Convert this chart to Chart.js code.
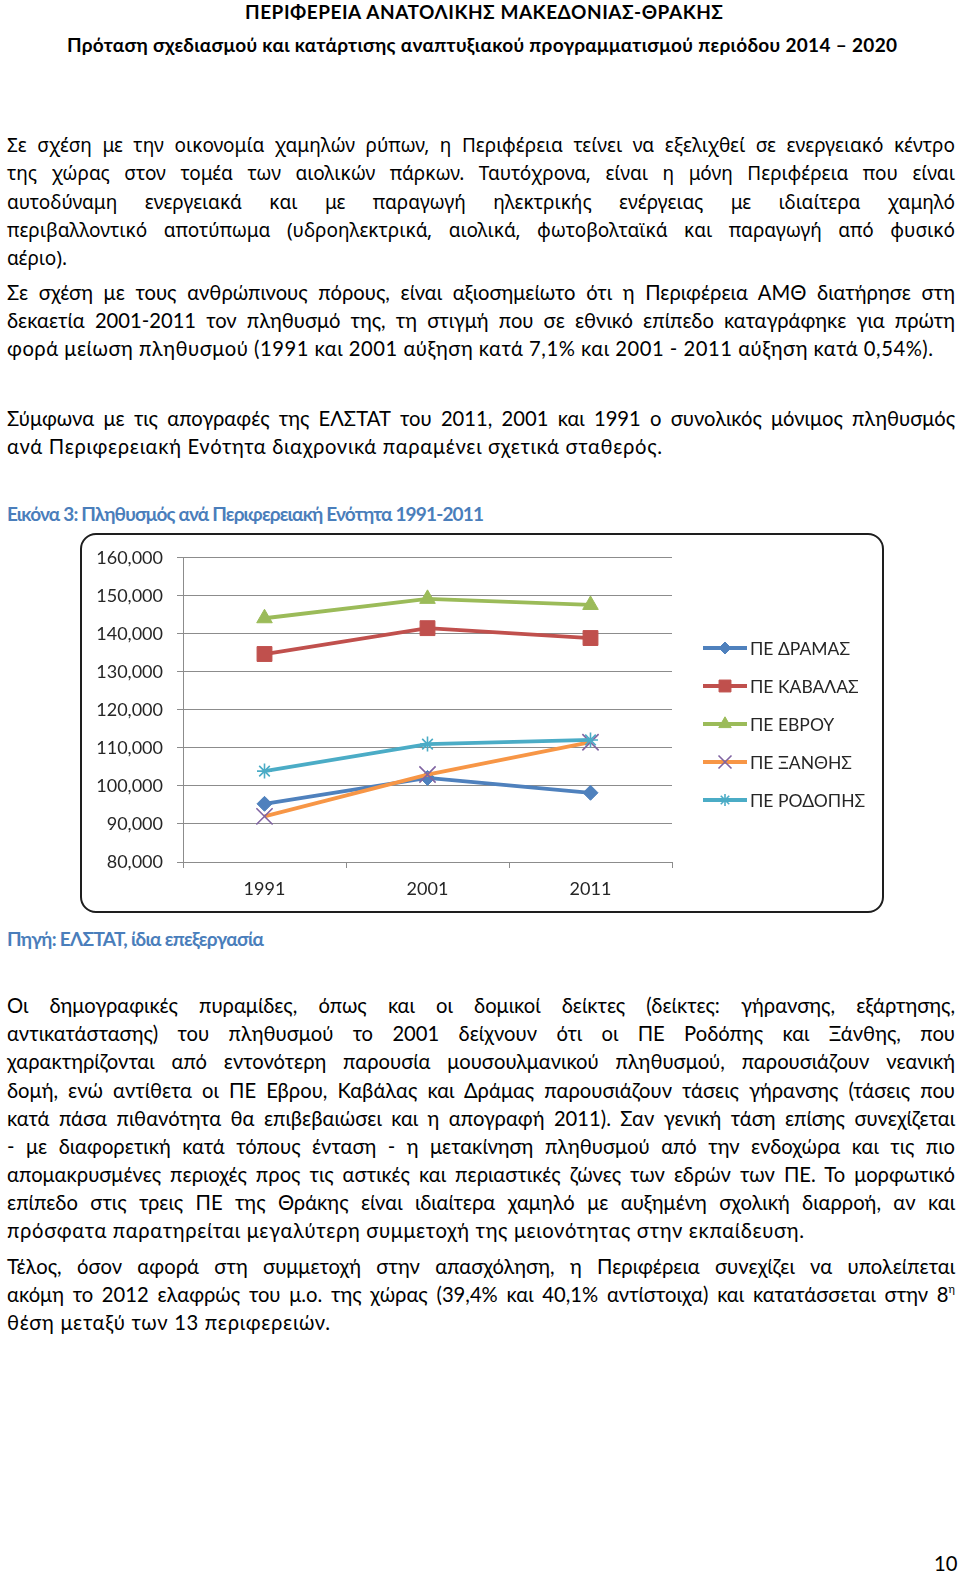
<!DOCTYPE html>
<html><head><meta charset="utf-8">
<script src="https://cdn.jsdelivr.net/npm/chart.js@4/dist/chart.umd.min.js"></script>
<style>
html,body{margin:0;padding:0;background:#fff;}
body{width:960px;height:1575px;position:relative;overflow:hidden;font-family:Lato,'Noto Sans',sans-serif;color:#000;}
.ln{position:absolute;white-space:nowrap;line-height:28px;font-size:20.2px;left:0;top:0;}
.t{font-family:'Noto Sans',sans-serif;font-size:19px;}
.h{font-size:19px;}
.b{font-weight:bold;}
.blue{color:#4A7EBB;}
sup{font-size:11px;vertical-align:9px;line-height:0;}
#box{position:absolute;left:80px;top:533px;width:800px;height:376px;border:2px solid #1e1e1e;border-radius:16px;}
#cw{position:absolute;left:80px;top:533px;width:805px;height:380px;}
</style></head>
<body>
<div class="ln b h" data-x="245" data-b="18.5" data-w="478" data-fit="ls">ΠΕΡΙΦΕΡΕΙΑ ΑΝΑΤΟΛΙΚΗΣ ΜΑΚΕΔΟΝΙΑΣ-ΘΡΑΚΗΣ</div>
<div class="ln b h" data-x="67" data-b="52" data-w="830" data-fit="ls">Πρόταση σχεδιασμού και κατάρτισης αναπτυξιακού προγραμματισμού περιόδου 2014 – 2020</div>

<div class="ln t" data-x="7" data-b="152.3" data-w="948">Σε σχέση με την οικονομία χαμηλών ρύπων, η Περιφέρεια τείνει να εξελιχθεί σε ενεργειακό κέντρο</div>
<div class="ln t" data-x="7" data-b="180.4" data-w="948">της χώρας στον τομέα των αιολικών πάρκων. Ταυτόχρονα, είναι η μόνη Περιφέρεια που είναι</div>
<div class="ln t" data-x="7" data-b="208.5" data-w="948">αυτοδύναμη ενεργειακά και με παραγωγή ηλεκτρικής ενέργειας με ιδιαίτερα χαμηλό</div>
<div class="ln t" data-x="7" data-b="236.6" data-w="948">περιβαλλοντικό αποτύπωμα (υδροηλεκτρικά, αιολικά, φωτοβολταϊκά και παραγωγή από φυσικό</div>
<div class="ln t" data-x="7" data-b="264.7">αέριο).</div>

<div class="ln" data-x="7" data-b="299.5" data-w="948">Σε σχέση με τους ανθρώπινους πόρους, είναι αξιοσημείωτο ότι η Περιφέρεια ΑΜΘ διατήρησε στη</div>
<div class="ln" data-x="7" data-b="327.7" data-w="948">δεκαετία 2001-2011 τον πληθυσμό της, τη στιγμή που σε εθνικό επίπεδο καταγράφηκε για πρώτη</div>
<div class="ln" data-x="7" data-b="355.9" data-w="926" data-fit="ls">φορά μείωση πληθυσμού (1991 και 2001 αύξηση κατά 7,1% και 2001 - 2011 αύξηση κατά 0,54%).</div>

<div class="ln" data-x="7" data-b="425.5" data-w="948">Σύμφωνα με τις απογραφές της ΕΛΣΤΑΤ του 2011, 2001 και 1991 ο συνολικός μόνιμος πληθυσμός</div>
<div class="ln" data-x="7" data-b="453.7" data-w="655" data-fit="ls">ανά Περιφερειακή Ενότητα διαχρονικά παραμένει σχετικά σταθερός.</div>

<div class="ln b blue h" data-x="7" data-b="521" data-w="477" data-fit="ls">Εικόνα 3: Πληθυσμός ανά Περιφερειακή Ενότητα 1991-2011</div>

<div id="box"></div>
<div id="cw"><canvas id="c" width="805" height="380"></canvas></div>

<div class="ln b blue h" data-x="7" data-b="946" data-w="257" data-fit="ls">Πηγή: ΕΛΣΤΑΤ, ίδια επεξεργασία</div>

<div class="ln" data-x="7" data-b="1013" data-w="948">Οι δημογραφικές πυραμίδες, όπως και οι δομικοί δείκτες (δείκτες: γήρανσης, εξάρτησης,</div>
<div class="ln" data-x="7" data-b="1041.2" data-w="948">αντικατάστασης) του πληθυσμού το 2001 δείχνουν ότι οι ΠΕ Ροδόπης και Ξάνθης, που</div>
<div class="ln" data-x="7" data-b="1069.3" data-w="948">χαρακτηρίζονται από εντονότερη παρουσία μουσουλμανικού πληθυσμού, παρουσιάζουν νεανική</div>
<div class="ln" data-x="7" data-b="1097.5" data-w="948">δομή, ενώ αντίθετα οι ΠΕ Έβρου, Καβάλας και Δράμας παρουσιάζουν τάσεις γήρανσης (τάσεις που</div>
<div class="ln" data-x="7" data-b="1125.6" data-w="948">κατά πάσα πιθανότητα θα επιβεβαιώσει και η απογραφή 2011). Σαν γενική τάση επίσης συνεχίζεται</div>
<div class="ln" data-x="7" data-b="1153.8" data-w="948">- με διαφορετική κατά τόπους ένταση - η μετακίνηση πληθυσμού από την ενδοχώρα και τις πιο</div>
<div class="ln" data-x="7" data-b="1181.9" data-w="948">απομακρυσμένες περιοχές προς τις αστικές και περιαστικές ζώνες των εδρών των ΠΕ. Το μορφωτικό</div>
<div class="ln" data-x="7" data-b="1210" data-w="948">επίπεδο στις τρεις ΠΕ της Θράκης είναι ιδιαίτερα χαμηλό με αυξημένη σχολική διαρροή, αν και</div>
<div class="ln" data-x="7" data-b="1238.2" data-w="797" data-fit="ls">πρόσφατα παρατηρείται μεγαλύτερη συμμετοχή της μειονότητας στην εκπαίδευση.</div>

<div class="ln" data-x="7" data-b="1273.5" data-w="948">Τέλος, όσον αφορά στη συμμετοχή στην απασχόληση, η Περιφέρεια συνεχίζει να υπολείπεται</div>
<div class="ln" data-x="7" data-b="1301.7" data-w="948">ακόμη το 2012 ελαφρώς του μ.ο. της χώρας (39,4% και 40,1% αντίστοιχα) και κατατάσσεται στην 8<sup>η</sup></div>
<div class="ln" data-x="7" data-b="1329.9" data-w="323" data-fit="ls">θέση μεταξύ των 13 περιφερειών.</div>

<div class="ln" data-x="934" data-b="1571">10</div>

<script>
// ---- chart data ----
const years = ['1991', '2001', '2011'];
const seriesNames = ['ΠΕ ΔΡΑΜΑΣ', 'ΠΕ ΚΑΒΑΛΑΣ', 'ΠΕ ΕΒΡΟΥ', 'ΠΕ ΞΑΝΘΗΣ', 'ΠΕ ΡΟΔΟΠΗΣ'];
const drama  = [95300, 102100, 98200];
const kavala = [134700, 141500, 138900];
const evros  = [144100, 149200, 147600];
const xanthi = [92000, 103000, 111500];
const rodopi = [103900, 111000, 112100];
const yTickValues = [80000, 90000, 100000, 110000, 120000, 130000, 140000, 150000, 160000];

// ---- text line layout ----
document.querySelectorAll('.ln').forEach(el => {
  const x = +el.dataset.x, b = +el.dataset.b;
  const w = el.dataset.w ? +el.dataset.w : null;
  const mode = el.dataset.fit || 'ws';
  if (w) {
    const nat = el.getBoundingClientRect().width;
    const txt = el.textContent;
    if (mode === 'ws') {
      const n = (txt.match(/ /g) || []).length;
      if (n) el.style.wordSpacing = ((w - nat) / n) + 'px';
    } else {
      const n = txt.length - 1;
      if (n > 0) el.style.letterSpacing = ((w - nat) / n) + 'px';
    }
  }
  const m = document.createElement('span');
  m.style.cssText = 'display:inline-block;width:0;height:0;vertical-align:baseline;';
  el.appendChild(m);
  const bo = m.offsetTop;
  el.style.left = x + 'px';
  el.style.top = (b - bo) + 'px';
});

// ---- chart ----
const FONT = 'Lato, "Noto Sans", sans-serif';
const gridColor = '#8c8c8c';
const datasets = [
  {label: seriesNames[0], data: drama, borderColor: '#4F81BD', pointBackgroundColor: '#4F81BD', pointBorderColor: '#4F81BD',
   pointStyle: 'rectRot', pointRadius: 7.5, order: 5},
  {label: seriesNames[1], data: kavala, borderColor: '#C0504D', pointBackgroundColor: '#C0504D', pointBorderColor: '#C0504D',
   pointStyle: 'rect', pointRadius: 10.5, order: 4},
  {label: seriesNames[2], data: evros, borderColor: '#9BBB59', pointBackgroundColor: '#9BBB59', pointBorderColor: '#9BBB59',
   pointStyle: 'triangle', pointRadius: 9, order: 3},
  {label: seriesNames[3], data: xanthi, borderColor: '#F79646', pointBackgroundColor: '#8064A2', pointBorderColor: '#8064A2',
   pointStyle: 'crossRot', pointRadius: 11.5, pointBorderWidth: 1.6, order: 2},
  {label: seriesNames[4], data: rodopi, borderColor: '#4BACC6', pointBackgroundColor: '#4BACC6', pointBorderColor: '#4BACC6',
   pointStyle: 'star', pointRadius: 7.5, pointBorderWidth: 1.6, order: 1}
].map(d => Object.assign({borderWidth: 3.8, tension: 0, pointBorderWidth: 1, pointHoverRadius: d.pointRadius}, d));

function drawMarker(ctx, style, r, x, y) {
  if (Chart.helpers && Chart.helpers.drawPoint) {
    Chart.helpers.drawPoint(ctx, {pointStyle: style, radius: r, rotation: 0, borderWidth: ctx.lineWidth}, x, y);
  }
}

const legendPlugin = {
  id: 'xlLegend',
  afterDraw(chart) {
    const ctx = chart.ctx;
    const x0 = 623, x1 = 667, tx = 670, top = 115, gap = 38;
    chart.data.datasets.forEach((ds, i) => {
      const y = top + i * gap;
      ctx.save();
      ctx.strokeStyle = ds.borderColor;
      ctx.lineWidth = ds.borderWidth;
      ctx.beginPath(); ctx.moveTo(x0, y); ctx.lineTo(x1, y); ctx.stroke();
      ctx.fillStyle = ds.pointBackgroundColor;
      ctx.strokeStyle = ds.pointBorderColor;
      ctx.lineWidth = ds.pointBorderWidth;
      drawMarker(ctx, ds.pointStyle, ds.pointRadius * 0.8, (x0 + x1) / 2, y);
      ctx.fillStyle = '#262626';
      ctx.font = '17.5px ' + FONT;
      ctx.textBaseline = 'middle';
      ctx.textAlign = 'left';
      ctx.fillText(ds.label, tx, y + 1);
      ctx.restore();
    });
  }
};

new Chart(document.getElementById('c'), {
  type: 'line',
  data: {labels: years, datasets},
  options: {
    responsive: false,
    animation: false,
    devicePixelRatio: 1,
    layout: {padding: {left: 0, right: 213, top: 24, bottom: 0}},
    plugins: {legend: {display: false}, tooltip: {enabled: false}},
    scales: {
      x: {
        type: 'category',
        offset: true,
        grid: {offset: true, drawOnChartArea: false, drawTicks: true, tickLength: 6, color: gridColor},
        border: {display: true, color: gridColor, width: 1},
        ticks: {color: '#262626', font: {family: FONT, size: 18}, padding: 10, maxRotation: 0},
        afterFit(s) { s.height = 51; }
      },
      y: {
        min: yTickValues[0],
        max: yTickValues[yTickValues.length - 1],
        afterBuildTicks(s) { s.ticks = yTickValues.map(v => ({value: v})); },
        grid: {color: gridColor, tickLength: 6},
        border: {display: true, color: gridColor, width: 1},
        ticks: {color: '#262626', font: {family: FONT, size: 18}, padding: 14,
                callback: v => Number(v).toLocaleString('en-US')},
        afterFit(s) { s.width = 103; }
      }
    }
  },
  plugins: [legendPlugin]
});
</script>
</body></html>
